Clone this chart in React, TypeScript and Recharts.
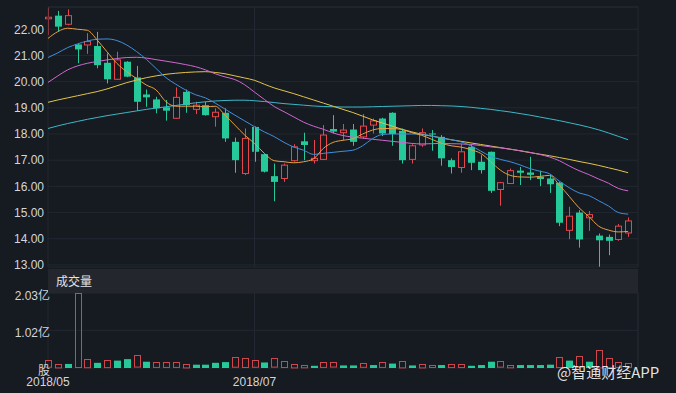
import React from "react";
import {
  ComposedChart,
  Bar,
  Line,
  XAxis,
  YAxis,
  CartesianGrid,
  ReferenceLine,
} from "recharts";

const BG = "#161a21";
const GRID = "#222831";
const TEXT = "#d3d6db";
const UP = "#e5474d";
const UP_VOL = "#cf474d";
const DOWN = "#25c99a";

const opens = [
  22.4, 22.52, 22.19, 21.42, 21.4, 21.36, 20.72, 20.09, 20.76, 20.16,
  19.51, 19.32, 19.02, 18.6, 19.61, 18.94, 19.1, 18.66, 18.81, 17.7,
  16.49, 18.27, 17.23, 16.39, 16.3, 16.98, 17.72, 16.98, 17.03, 18.19,
  18.05, 18.17, 17.89, 18.34, 18.59, 18.81, 18.12, 17.03, 17.58, 18.02,
  17.89, 17.0, 16.72, 17.51, 16.94, 17.32, 15.88, 16.11, 16.6, 16.53,
  16.37, 16.3, 16.14, 14.32, 15.0, 14.8, 14.12, 14.07, 13.97, 14.22,
];
const closes = [
  22.46, 22.1, 22.52, 21.23, 21.53, 20.63, 20.09, 20.83, 20.19, 19.23,
  19.4, 18.98, 18.89, 19.4, 19.1, 19.1, 18.72, 18.83, 17.83, 17.0,
  17.83, 17.32, 16.56, 16.17, 16.81, 17.51, 17.58, 17.07, 17.96, 18.09,
  18.15, 17.7, 18.3, 18.5, 18.02, 18.0, 17.0, 17.55, 18.05, 17.98,
  17.07, 16.74, 17.32, 16.9, 16.62, 15.83, 16.14, 16.6, 16.52, 16.44,
  16.28, 16.08, 14.61, 14.86, 13.97, 14.92, 13.94, 13.92, 14.48, 14.68,
];
const highs = [
  22.85, 22.7, 22.76, 21.45, 21.85, 21.9, 21.08, 21.14, 20.78, 20.6,
  19.7, 19.42, 19.3, 19.78, 19.7, 19.23, 19.23, 18.98, 18.98, 17.86,
  18.21, 18.29, 17.25, 16.87, 16.87, 17.61, 18.05, 17.77, 18.34, 18.72,
  18.38, 18.38, 18.76, 18.59, 18.62, 18.83, 18.21, 17.61, 18.21, 18.15,
  17.96, 17.07, 17.61, 17.58, 17.19, 17.33, 16.17, 16.68, 16.74, 17.13,
  16.6, 16.43, 16.17, 15.22, 15.09, 15.06, 14.2, 14.16, 14.56, 14.81,
];
const lows = [
  21.78, 21.91, 22.15, 20.7, 21.06, 20.51, 19.93, 20.07, 20.17, 18.89,
  19.04, 18.79, 18.51, 18.58, 18.81, 18.76, 18.7, 18.28, 17.7, 16.52,
  16.43, 16.94, 16.53, 15.43, 16.17, 16.94, 17.0, 16.87, 17.01, 18.02,
  17.77, 17.55, 17.83, 18.02, 17.92, 17.55, 16.87, 16.87, 17.51, 17.36,
  16.79, 16.49, 16.52, 16.62, 16.49, 15.75, 15.26, 16.09, 16.05, 16.24,
  16.01, 15.75, 14.48, 13.98, 13.66, 14.3, 12.93, 13.37, 13.92, 14.07,
];

const ma5 = [
  21.65, 21.91, 22.04, 22.0, 21.96, 21.59, 21.14, 20.7, 20.38, 20.12,
  19.87, 19.68, 19.23, 19.06, 19.06, 19.06, 19.04, 19.06, 18.72, 18.34,
  17.96, 17.64, 17.26, 16.98, 16.94, 16.9, 16.94, 17.05, 17.45, 17.68,
  17.76, 17.82, 18.0, 18.15, 18.21, 18.21, 18.17, 18.05, 17.95, 17.8,
  17.65, 17.55, 17.5, 17.4, 17.26, 16.95, 16.62, 16.42, 16.36, 16.35,
  16.38, 16.42, 16.05, 15.62, 15.18, 14.85, 14.48, 14.33, 14.26, 14.28,
];
const ma10 = [
  20.92, 21.1, 21.3, 21.44, 21.55, 21.62, 21.63, 21.57, 21.4, 21.15,
  20.85, 20.5, 20.15, 19.9, 19.68, 19.5, 19.38, 19.18, 18.95, 18.72,
  18.5, 18.28, 18.08, 17.9, 17.68, 17.5, 17.38, 17.22, 17.26, 17.3,
  17.34, 17.38, 17.55, 17.82, 17.98, 18.0, 18.0, 18.0, 18.0, 17.92,
  17.85, 17.78, 17.7, 17.55, 17.35, 17.15, 17.03, 16.94, 16.82, 16.68,
  16.58, 16.48, 16.2, 15.95, 15.75, 15.65, 15.45, 15.25, 15.0, 14.94,
];
const ma20 = [
  19.97, 20.22, 20.45, 20.6, 20.7, 20.77, 20.83, 20.88, 20.92, 20.93,
  20.9, 20.84, 20.78, 20.72, 20.65, 20.57, 20.45, 20.3, 20.18, 20.08,
  19.88, 19.6, 19.32, 19.05, 18.85, 18.65, 18.45, 18.3, 18.18, 18.04,
  17.94, 17.88, 17.84, 17.8, 17.76, 17.72, 17.68, 17.64, 17.62, 17.63,
  17.64, 17.63, 17.62, 17.6, 17.56, 17.51, 17.47, 17.42, 17.36, 17.3,
  17.22, 17.12, 16.98, 16.78, 16.6, 16.45, 16.28, 16.12, 15.92, 15.83,
];
const ma30 = [
  19.21, 19.3, 19.38, 19.46, 19.54, 19.62, 19.72, 19.84, 19.96, 20.06,
  20.15, 20.22, 20.28, 20.32, 20.35, 20.37, 20.38, 20.35, 20.3, 20.22,
  20.14, 20.05, 19.9, 19.76, 19.65, 19.54, 19.42, 19.3, 19.18, 19.06,
  18.94, 18.82, 18.68, 18.54, 18.42, 18.3, 18.18, 18.08, 17.99, 17.92,
  17.85, 17.78, 17.72, 17.66, 17.6, 17.54, 17.48, 17.42, 17.36, 17.29,
  17.23, 17.17, 17.1, 17.03, 16.95, 16.88, 16.8, 16.71, 16.62, 16.52,
];
const ma60 = [
  18.21, 18.31, 18.4, 18.48, 18.56, 18.63, 18.7, 18.76, 18.82, 18.88,
  18.94, 18.99, 19.04, 19.09, 19.14, 19.19, 19.23, 19.26, 19.28, 19.29,
  19.29, 19.27, 19.24, 19.2, 19.16, 19.13, 19.1, 19.07, 19.05, 19.04,
  19.03, 19.03, 19.03, 19.04, 19.05, 19.06, 19.07, 19.08, 19.09, 19.09,
  19.08, 19.07, 19.05, 19.02, 18.98, 18.94, 18.89, 18.84, 18.78, 18.72,
  18.65, 18.58, 18.51, 18.43, 18.35, 18.26, 18.16, 18.04, 17.91, 17.78,
];

// volume in 亿股
const vols = [
  0.21, 0.12, 0.11, 2.03, 0.25, 0.14, 0.22, 0.2, 0.24, 0.34,
  0.17, 0.16, 0.16, 0.16, 0.12, 0.09, 0.09, 0.14, 0.16, 0.29,
  0.27, 0.21, 0.15, 0.26, 0.19, 0.12, 0.09, 0.06, 0.16, 0.15,
  0.07, 0.07, 0.13, 0.08, 0.16, 0.12, 0.2, 0.07, 0.12, 0.08,
  0.08, 0.11, 0.11, 0.06, 0.08, 0.17, 0.18, 0.09, 0.08, 0.08,
  0.08, 0.09, 0.3, 0.2, 0.32, 0.17, 0.5, 0.27, 0.16, 0.13,
];
const volUp = [
  1, 1, 0, 1, 1, 0, 1, 0, 0, 1,
  0, 1, 1, 1, 1, 0, 0, 0, 0, 1,
  1, 1, 0, 1, 1, 1, 1, 0, 1, 1,
  0, 0, 1, 0, 1, 0, 1, 0, 1, 1,
  0, 1, 1, 0, 0, 0, 1, 1, 0, 0,
  0, 0, 1, 0, 1, 0, 1, 1, 1, 1,
];

const priceTicks = [13, 14, 15, 16, 17, 18, 19, 20, 21, 22];
const volTicks = [0, 1.02e8, 2.03e8];
const dateTicks = [0, 21];
const dateLabels = ["2018/05", "2018/07"];

const data = opens.map((o, i) => ({
  i,
  open: o,
  close: closes[i],
  high: highs[i],
  low: lows[i],
  ma5: ma5[i],
  ma10: ma10[i],
  ma20: ma20[i],
  ma30: ma30[i],
  ma60: ma60[i],
  vol: vols[i] * 1e8,
  volUp: volUp[i] === 1,
}));

function Candle(props: any) {
  const { x, y, width, height, payload } = props;
  if (x == null || !payload) return null;
  const top = Math.min(y, y + height);
  const h = Math.abs(height);
  const { open, close, high, low } = payload;
  const k = high > low ? h / (high - low) : 0;
  const py = (v: number) => top + (high - v) * k;
  const cx = Math.round(x + width / 2) + 0.5;
  const up = close >= open;
  const color = up ? UP : DOWN;
  const bTop = py(Math.max(open, close));
  const bBot = py(Math.min(open, close));
  const bh = Math.max(bBot - bTop, 1);
  return (
    <g>
      <line x1={cx} x2={cx} y1={top} y2={top + h} stroke={color} strokeWidth={1} />
      {up ? (
        <rect x={cx - 3} y={bTop} width={6} height={bh} fill={BG} stroke={color} strokeWidth={1} />
      ) : (
        <rect x={cx - 3.5} y={bTop} width={7} height={bh} fill={color} />
      )}
    </g>
  );
}

function VolBar(props: any) {
  const { x, y, width, height, payload } = props;
  if (x == null || !payload) return null;
  const top = Math.min(y, y + height);
  const h = Math.abs(height);
  const cx = Math.round(x + width / 2) + 0.5;
  if (payload.volUp) {
    return (
      <rect
        x={cx - 3}
        y={Math.round(top) + 0.5}
        width={6}
        height={Math.max(h - 1, 1)}
        fill="none"
        stroke={UP_VOL}
        strokeWidth={1}
      />
    );
  }
  return <rect x={cx - 3.5} y={top} width={7} height={h} fill={DOWN} />;
}

function VolTick(props: any) {
  const { y, payload } = props;
  const v = payload.value;
  const label = v === 0 ? "股" : (v / 1e8).toFixed(2) + "亿";
  return (
    <text x={50} y={y} dy={7} textAnchor="end" fill={TEXT} fontSize={12}>
      {label}
    </text>
  );
}

const maLines = [
  { key: "ma60", color: "#3bb8c8" },
  { key: "ma30", color: "#e2c44a" },
  { key: "ma20", color: "#cf68cf" },
  { key: "ma10", color: "#4090dc" },
  { key: "ma5", color: "#e8a044" },
];

export default function App() {
  return (
    <div
      style={{
        position: "fixed",
        left: 0,
        top: 0,
        width: 676,
        height: 393,
        background: BG,
        fontFamily: "'Liberation Sans', Arial, 'Noto Sans CJK SC', sans-serif",
        overflow: "hidden",
      }}
    >
      <div style={{ position: "absolute", left: 0, top: 0 }}>
        <ComposedChart
          width={676}
          height={276}
          data={data}
          margin={{ top: 7, right: 38, bottom: 9, left: 0 }}
        >
          <CartesianGrid stroke={GRID} vertical={false} />
          <XAxis type="number" dataKey="i" domain={[0, 60]} hide />
          <YAxis
            domain={[12.92, 22.85]}
            allowDataOverflow
            ticks={priceTicks}
            interval={0}
            width={48}
            axisLine={false}
            tickLine={false}
            tickSize={0}
            tickMargin={4}
            tickFormatter={(v: number) => v.toFixed(2)}
            tick={{ fill: TEXT, fontSize: 12 }}
          />
          <ReferenceLine y={22.85} stroke={GRID} />
          <ReferenceLine x={0} stroke={GRID} />
          <ReferenceLine x={21} stroke={GRID} />
          <ReferenceLine x={60} stroke={GRID} />
          <Bar
            dataKey={(d: any) => [d.low, d.high]}
            barSize={6}
            shape={Candle}
            isAnimationActive={false}
          />
          {maLines.map((m) => (
            <Line
              key={m.key}
              dataKey={m.key}
              type="monotone"
              stroke={m.color}
              strokeWidth={1}
              dot={false}
              activeDot={false}
              isAnimationActive={false}
            />
          ))}
        </ComposedChart>
      </div>

      <div style={{ position: "absolute", left: 0, top: 268 }}>
        <ComposedChart
          width={676}
          height={125}
          data={data}
          margin={{ top: 25, right: 38, bottom: 0, left: 0 }}
        >
          <CartesianGrid stroke={GRID} />
          <XAxis
            type="number"
            dataKey="i"
            domain={[0, 60]}
            ticks={dateTicks}
            interval={0}
            height={25}
            axisLine={false}
            tickLine={false}
            tickSize={0}
            tickMargin={9}
            tickFormatter={(v: number) => dateLabels[dateTicks.indexOf(v)]}
            tick={{ fill: TEXT, fontSize: 12 }}
          />
          <YAxis
            domain={[0, 2.03e8]}
            ticks={volTicks}
            interval={0}
            width={48}
            axisLine={false}
            tickLine={false}
            tick={<VolTick />}
          />
          <ReferenceLine x={60} stroke={GRID} />
          <Bar dataKey="vol" barSize={6} shape={VolBar} isAnimationActive={false} />
        </ComposedChart>
      </div>

      <div
        style={{
          position: "absolute",
          left: 48,
          top: 269,
          width: 590,
          height: 24,
          background: "#23272d",
          color: "#e2e4e7",
          fontSize: 12,
          lineHeight: "24px",
          paddingLeft: 8,
          boxSizing: "border-box",
          fontFamily: "'Noto Sans CJK SC', sans-serif",
        }}
      >
        成交量
      </div>

      <div
        style={{
          position: "absolute",
          left: 557,
          top: 362,
          fontSize: 15,
          lineHeight: "20px",
          color: "rgba(255,255,255,0.88)",
          fontFamily: "'Noto Sans CJK SC', sans-serif",
          whiteSpace: "nowrap",
        }}
      >
        @智通财经APP
      </div>
    </div>
  );
}
